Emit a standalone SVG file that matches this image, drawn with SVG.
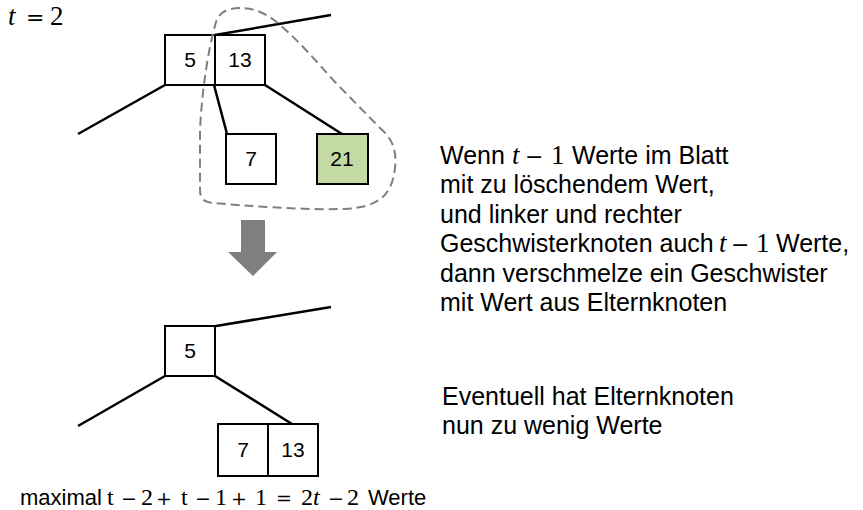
<svg xmlns="http://www.w3.org/2000/svg" width="863" height="510" viewBox="0 0 863 510">
<style>
.box{fill:#fff;stroke:#000;stroke-width:2}
.leaf{fill:#c4daa4;stroke:#000;stroke-width:2}
.edge{stroke:#000;stroke-width:2.5;fill:none}
.num{font-family:"Liberation Sans",Arial,sans-serif;font-size:21px;text-anchor:middle}
.txt{font-family:"Liberation Sans",Arial,sans-serif;font-size:25px}
.math{font-family:"Liberation Serif","DejaVu Serif",serif;font-size:27px}
.op{font-family:"DejaVu Serif","Liberation Serif",serif;font-size:22px}
.it{font-style:italic}
.bm{font-family:"Liberation Serif","DejaVu Serif",serif;font-size:24px}
.bop{font-family:"DejaVu Serif","Liberation Serif",serif;font-size:19px}
</style>
<rect width="863" height="510" fill="#fff"/>
<text y="25"><tspan x="8" class="math it">t</tspan><tspan x="26" class="op" font-size="26">=</tspan><tspan x="50" class="math">2</tspan></text>

<g id="connectors">
<line class="edge" x1="215" y1="35" x2="331" y2="15"/>
<line class="edge" x1="165" y1="85" x2="78" y2="134"/>
<line class="edge" x1="214" y1="85" x2="227" y2="134"/>
<line class="edge" x1="265" y1="85" x2="342" y2="134"/>
<line class="edge" x1="216" y1="326" x2="331" y2="307"/>
<line class="edge" x1="165" y1="376" x2="78" y2="426"/>
<line class="edge" x1="215" y1="376" x2="292" y2="424"/>
</g>

<g id="node-5-13">
<rect class="box" x="165" y="35" width="50" height="50"/>
<rect class="box" x="215" y="35" width="50" height="50"/>
<text class="num" x="190" y="67">5</text>
<text class="num" x="240" y="67">13</text>
</g>
<g id="node-7">
<rect class="box" x="226" y="134" width="50" height="50"/>
<text class="num" x="251" y="166">7</text>
</g>
<g id="node-21">
<rect class="leaf" x="317" y="134" width="51" height="50"/>
<text class="num" x="342" y="166">21</text>
</g>

<g id="merge-region">
<path d="M240,8 C228,8 219,12 216,22 C208,50 202,90 200,130 L200,190 C200,199 204,202 212,203 C250,206 300,210 345,209 C378,207 392,196 395,168 C397,150 392,138 380,128 L335,82 C315,60 300,42 280,25 C268,14 255,8 240,8 Z" fill="none" stroke="#7f7f7f" stroke-width="2" stroke-dasharray="9,5"/>
</g>

<g id="arrow">
<polygon points="241,220 265,220 265,252 277,252 253,276 228,252 241,252" fill="#7f7f7f"/>
</g>

<g id="node-5b">
<rect class="box" x="165" y="326" width="50" height="50"/>
<text class="num" x="190" y="358">5</text>
</g>
<g id="node-7-13">
<rect class="box" x="218" y="424" width="50" height="52"/>
<rect class="box" x="268" y="424" width="50" height="52"/>
<text class="num" x="243" y="457">7</text>
<text class="num" x="293" y="457">13</text>
</g>

<g id="text-right">
<text class="txt" y="164"><tspan x="440">Wenn</tspan><tspan x="512" class="math it">t</tspan><tspan x="525" class="op">−</tspan><tspan x="551" class="math">1</tspan><tspan x="572">Werte im Blatt</tspan></text>
<text class="txt" x="440" y="193.4">mit zu löschendem Wert,</text>
<text class="txt" x="440" y="222.8">und linker und rechter</text>
<text class="txt" y="252.2"><tspan x="440">Geschwisterknoten auch</tspan><tspan x="719" class="math it">t</tspan><tspan x="731" class="op">−</tspan><tspan x="756" class="math">1</tspan><tspan x="776">Werte,</tspan></text>
<text class="txt" x="440" y="281.6">dann verschmelze ein Geschwister</text>
<text class="txt" x="440" y="311">mit Wert aus Elternknoten</text>
<text class="txt" x="442" y="405">Eventuell hat Elternknoten</text>
<text class="txt" x="442" y="434">nun zu wenig Werte</text>
</g>

<g id="text-bottom">
<text y="505" font-family="Liberation Sans,Arial,sans-serif" font-size="22"><tspan x="20">maximal</tspan><tspan class="bm" x="107">t</tspan><tspan class="bop" x="121">−</tspan><tspan class="bm" x="141">2</tspan><tspan class="bop" x="156">+</tspan><tspan class="bm" x="181">t</tspan><tspan class="bop" x="195">−</tspan><tspan class="bm" x="215">1</tspan><tspan class="bop" x="231">+</tspan><tspan class="bm" x="255">1</tspan><tspan class="bop" x="276">=</tspan><tspan class="bm" x="301">2</tspan><tspan class="bm it" x="313">t</tspan><tspan class="bop" x="328">−</tspan><tspan class="bm" x="347">2</tspan><tspan x="368">Werte</tspan></text>
</g>
</svg>
